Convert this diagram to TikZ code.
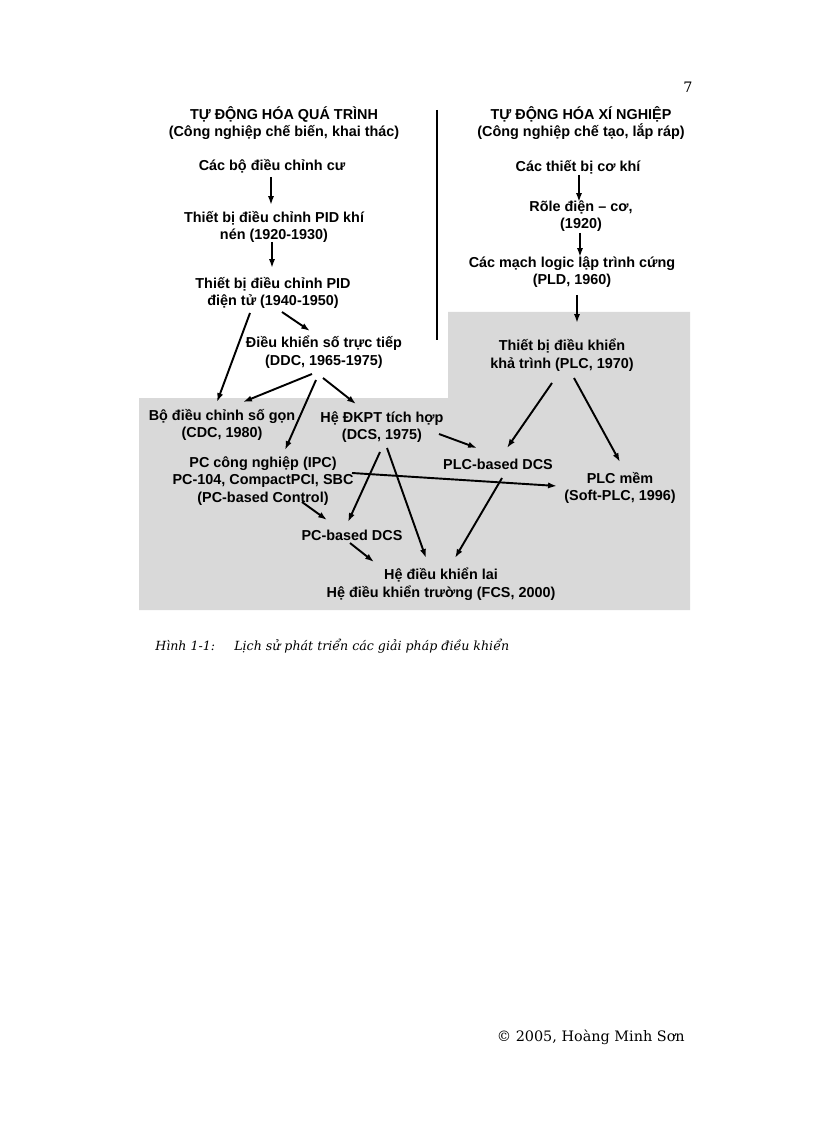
\documentclass[tikz,border=0pt]{standalone}
\usepackage{fontspec}
\setmainfont{Liberation Sans}
\newfontfamily\serifcap{DejaVu Serif}
\usetikzlibrary{arrows.meta}

\begin{document}
\begin{tikzpicture}
[x=0.7292pt,y=-0.7292pt,
 txt/.style={align=center,inner sep=0pt,font=\fontsize{10.5}{12.8}\selectfont\bfseries},
 arr/.style={-{Latex[length=6.5pt,width=4.5pt]},line width=1.4pt},
 pagetxt/.style={inner sep=0pt,font=\serifcap\fontsize{10.5}{12}\selectfont},
 captxt/.style={inner sep=0pt,font=\serifcap\itshape\fontsize{9.2}{11}\selectfont}]
	\useasboundingbox[fill=white] (0,0) rectangle (816,1123);
	\fill[black!15] (139,398) -- (448,398) -- (448,312) -- (690,312) -- (690,610) -- (139,610) -- cycle;
	\draw[line width=1.4pt] (437,110) -- (437,340);
	% left column
	\node[txt] (qt) at (284,123) {TỰ ĐỘNG HÓA QUÁ TRÌNH\\(Công nghiệp chế biến, khai thác)};
	\node[txt] (cocu) at (272,166) {Các bộ điều chỉnh cư};
	\node[txt] (pidkhi) at (274,227) {Thiết bị điều chỉnh PID khí\\nén (1920-1930)};
	\node[txt] (piddt) at (273,293) {Thiết bị điều chỉnh PID\\điện tử (1940-1950)};
	\node[txt] (ddc) at (324,352) {Điều khiển số trực tiếp\\(DDC, 1965-1975)};
	\node[txt] (cdc) at (222,425) {Bộ điều chỉnh số gọn\\(CDC, 1980)};
	\node[txt] (dcs) at (382,427) {Hệ ĐKPT tích hợp\\(DCS, 1975)};
	\node[txt] (ipc) at (263,481) {PC công nghiệp (IPC)\\PC-104, CompactPCI, SBC\\(PC-based Control)};
	\node[txt] (pcdcs) at (352,535) {PC-based DCS};
	\node[txt] (lai) at (441,584) {Hệ điều khiển lai\\Hệ điều khiển trường (FCS, 2000)};
	% right column
	\node[txt] (xn) at (581,123) {TỰ ĐỘNG HÓA XÍ NGHIỆP\\(Công nghiệp chế tạo, lắp ráp)};
	\node[txt] (cokhi) at (578,167) {Các thiết bị cơ khí};
	\node[txt] (role) at (581,216) {Rõle điện – cơ,\\(1920)};
	\node[txt] (pld) at (572,272) {Các mạch logic lập trình cứng\\(PLD, 1960)};
	\node[txt] (plc) at (562,355) {Thiết bị điều khiển\\khả trình (PLC, 1970)};
	\node[txt] (plcdcs) at (498,464) {PLC-based DCS};
	\node[txt] (soft) at (620,488) {PLC mềm\\(Soft-PLC, 1996)};
	% arrows
	\path ([shift={(-1,11)}]cocu.center) edge[arr] ([shift={(-3,-22)}]pidkhi.center);
	\path ([shift={(-2,15)}]pidkhi.center) edge[arr] ([shift={(-1,-25)}]piddt.center);
	\path ([shift={(9,19)}]piddt.center) edge[arr] ([shift={(-14,-21)}]ddc.center);
	\path ([shift={(-23,20)}]piddt.center) edge[arr] ([shift={(-5,-23)}]cdc.center);
	\path ([shift={(-12,22)}]ddc.center) edge[arr] ([shift={(21,-23)}]cdc.center);
	\path ([shift={(-8,28)}]ddc.center) edge[arr] ([shift={(22,-31)}]ipc.center);
	\path ([shift={(-1,26)}]ddc.center) edge[arr] ([shift={(-26,-23)}]dcs.center);
	\path ([shift={(57,7)}]dcs.center) edge[arr] ([shift={(-21,-16)}]plcdcs.center);
	\path ([shift={(-2,25)}]dcs.center) edge[arr] ([shift={(-4,-13)}]pcdcs.center);
	\path ([shift={(5,21)}]dcs.center) edge[arr] ([shift={(-15,-26)}]lai.center);
	\path ([shift={(39,21)}]ipc.center) edge[arr] ([shift={(-25,-15)}]pcdcs.center);
	\path ([shift={(89,-8)}]ipc.center) edge[arr] ([shift={(-63,-2)}]soft.center);
	\path ([shift={(-2,8)}]pcdcs.center) edge[arr] ([shift={(-67,-22)}]lai.center);
	\path ([shift={(1,8)}]cokhi.center) edge[arr] ([shift={(-2,-14)}]role.center);
	\path ([shift={(-1,17)}]role.center) edge[arr] ([shift={(8,-15)}]pld.center);
	\path ([shift={(5,23)}]pld.center) edge[arr] ([shift={(15,-32)}]plc.center);
	\path ([shift={(-10,28)}]plc.center) edge[arr] ([shift={(9,-16)}]plcdcs.center);
	\path ([shift={(12,23)}]plc.center) edge[arr] ([shift={(0,-26)}]soft.center);
	\path ([shift={(4,14)}]plcdcs.center) edge[arr] ([shift={(14,-26)}]lai.center);
	% page texts
	\node[pagetxt] (pageno) at (688,87) {7};
	\node[captxt,anchor=base west] (fignum) at (155,650) {Hình 1-1:};
	\node[captxt,anchor=base west] (figtitle) at (234,650) {Lịch sử phát triển các giải pháp điều khiển};
	\node[pagetxt,anchor=base east] (copy) at (685,1041) {© 2005, Hoàng Minh Sơn};
\end{tikzpicture}
\end{document}
